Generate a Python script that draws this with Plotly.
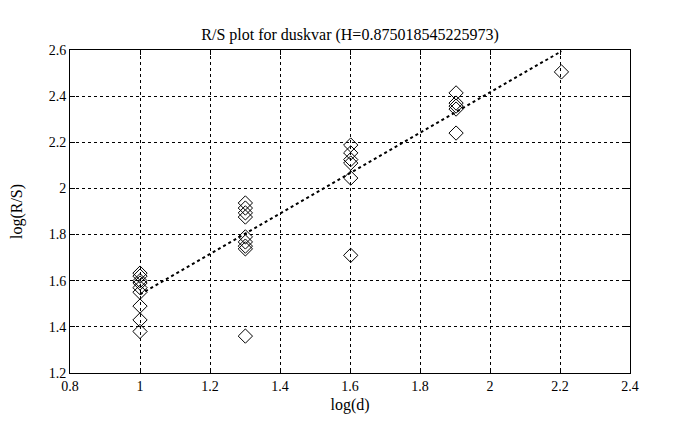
import numpy as np
import plotly.graph_objects as go

# data
x_groups = [1.0, 1.30103, 1.60206, 1.90309, 2.20412]
y_by_group = [
    [1.633, 1.62, 1.60, 1.59, 1.57, 1.55, 1.49, 1.43, 1.38],
    [1.937, 1.915, 1.894, 1.876, 1.79, 1.768, 1.75, 1.738, 1.36],
    [2.188, 2.154, 2.125, 2.11, 2.045, 1.71],
    [2.414, 2.37, 2.357, 2.344, 2.24],
    [2.505],
]
H = 0.875018545225973
intercept = 0.666

xs, ys = [], []
for xg, yl in zip(x_groups, y_by_group):
    for v in yl:
        xs.append(xg)
        ys.append(v)

fit_x = [x_groups[0], x_groups[-1]]
fit_y = [intercept + H * v for v in fit_x]

x_ticks = [0.8, 1, 1.2, 1.4, 1.6, 1.8, 2, 2.2, 2.4]
y_ticks = [1.2, 1.4, 1.6, 1.8, 2, 2.2, 2.4, 2.6]

serif = "Liberation Serif, Times New Roman, serif"
tick_font = dict(family=serif, size=14, color="black")
title_font = dict(family=serif, size=16, color="black")

fig = go.Figure()
fig.add_trace(go.Scatter(x=xs, y=ys, mode="markers",
                         marker=dict(symbol="diamond-open", size=11, color="black",
                                     line=dict(width=1, color="black")),
                         showlegend=False))
fig.add_trace(go.Scatter(x=fit_x, y=fit_y, mode="lines",
                         line=dict(color="black", width=2, dash="dot"),
                         showlegend=False))

axis_common = dict(showline=True, linecolor="black", linewidth=1, mirror="ticks",
                   ticks="inside", ticklen=5, tickcolor="black",
                   showgrid=True, gridcolor="black", gridwidth=1, griddash="dot",
                   zeroline=False, tickfont=tick_font, automargin=False)

fig.update_xaxes(range=[0.8, 2.4], tickvals=x_ticks, ticktext=[f"{v:g}" for v in x_ticks],
                 title=dict(text="log(d)", font=title_font, standoff=6), **axis_common)
fig.update_yaxes(range=[1.2, 2.6], tickvals=y_ticks, ticktext=[f"{v:g}" for v in y_ticks],
                 title=dict(text="log(R/S)", font=title_font, standoff=26), **axis_common)

fig.update_layout(
    width=678, height=422,
    margin=dict(l=62, r=56, t=42, b=57),
    paper_bgcolor="white", plot_bgcolor="white",
    title=dict(text="R/S plot for duskvar (H=0.875018545225973)", font=title_font,
               x=0.5, xref="paper", y=1 - 26 / 422, yanchor="middle"),
    font=tick_font,
)

fig.write_html("out.html")
